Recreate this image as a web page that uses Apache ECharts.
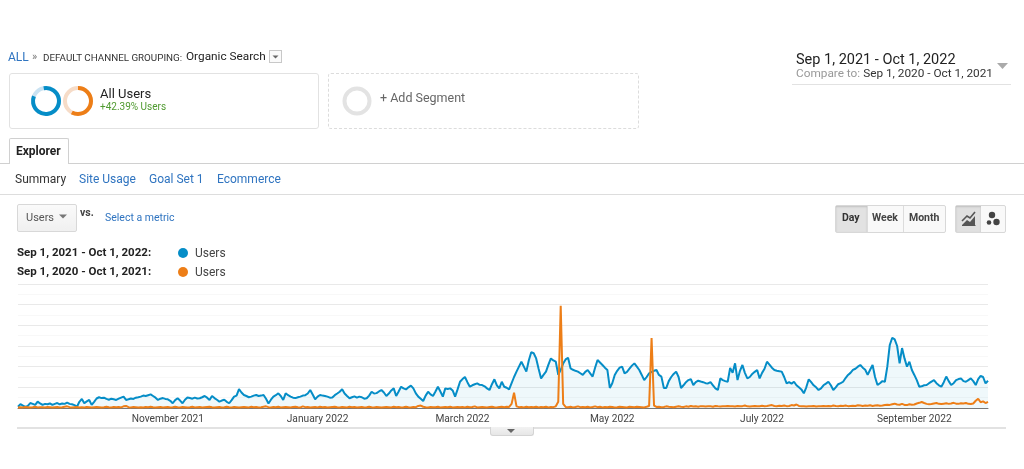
<!DOCTYPE html>
<html><head><meta charset="utf-8">
<script src="https://cdn.jsdelivr.net/npm/echarts@6/dist/echarts.min.js"></script>
<style>
html,body{margin:0;padding:0;width:1024px;height:469px;overflow:hidden;background:#fff;font-family:Roboto,Arial,sans-serif;}
#chart{position:absolute;left:0;top:0;width:1024px;height:469px;}
.a{position:absolute;white-space:nowrap;line-height:1;}
.box{position:absolute;box-sizing:border-box;}
.blue{color:#2f74c0;}
</style></head><body>
<div id="chart"></div>

<!-- breadcrumb -->
<div class="a blue" style="left:8px;top:51px;font-size:12px;">ALL</div>
<div class="a" style="left:32px;top:51px;font-size:11px;color:#777;">»</div>
<div class="a" style="left:43px;top:52.5px;font-size:9.8px;color:#333;">DEFAULT CHANNEL GROUPING:</div>
<div class="a" style="left:186px;top:50.5px;font-size:11.8px;color:#222;">Organic Search</div>
<div class="box" style="left:269px;top:50px;width:13px;height:13px;border:1px solid #c8c8c8;background:#fafafa;"></div>
<svg class="box" style="left:269px;top:50px" width="13" height="13"><path d="M3.5 5.5 L9.5 5.5 L6.5 8.5 Z" fill="#666"/></svg>

<!-- segment 1 -->
<div class="box" style="left:9px;top:73px;width:310px;height:56px;border:1px solid #e2e2e2;border-radius:3px;"></div>
<svg class="box" style="left:28px;top:83px" width="70" height="36">
  <circle cx="18" cy="18" r="13" fill="none" stroke="#c9e2f2" stroke-width="4"/>
  <circle cx="18" cy="18" r="13" fill="none" stroke="#058dc7" stroke-width="4" stroke-dasharray="68 82" transform="rotate(-100 18 18)"/>
  <circle cx="50" cy="18" r="13" fill="none" stroke="#f6dcc8" stroke-width="4"/>
  <circle cx="50" cy="18" r="13" fill="none" stroke="#ed7e17" stroke-width="4" stroke-dasharray="47 82" transform="rotate(-90 50 18)"/>
</svg>
<div class="a" style="left:100px;top:87px;font-size:13px;color:#222;">All Users</div>
<div class="a" style="left:100px;top:102px;font-size:10px;color:#4f9a2f;">+42.39% Users</div>

<!-- segment 2 -->
<div class="box" style="left:328px;top:73px;width:311px;height:56px;border:1px dashed #dcdcdc;border-radius:3px;"></div>
<svg class="box" style="left:342px;top:86px" width="30" height="30">
  <circle cx="15" cy="15" r="12.5" fill="none" stroke="#e3e3e3" stroke-width="4"/>
</svg>
<div class="a" style="left:380px;top:92px;font-size:12.5px;color:#666;">+ Add Segment</div>

<!-- date range -->
<div class="a" style="left:796px;top:53px;font-size:14.5px;color:#222;">Sep 1, 2021 - Oct 1, 2022</div>
<div class="a" style="left:796px;top:68px;font-size:11.8px;color:#999;">Compare to: <span style="color:#333">Sep 1, 2020 - Oct 1, 2021</span></div>
<svg class="box" style="left:997px;top:62px" width="12" height="8"><path d="M0 1 L11 1 L5.5 7 Z" fill="#aaa"/></svg>
<div class="box" style="left:792px;top:84px;width:219px;height:1px;background:#e2e2e2;"></div>

<!-- explorer tab -->
<div class="box" style="left:0;top:163px;width:1024px;height:1px;background:#d0d0d0;"></div>
<div class="box" style="left:9px;top:138px;width:60px;height:26px;border:1px solid #d0d0d0;border-bottom:none;background:#fff;border-radius:2px 2px 0 0;"></div>
<div class="a" style="left:16px;top:145px;font-size:12px;font-weight:bold;color:#222;">Explorer</div>

<!-- subtabs -->
<div class="a" style="left:15px;top:172.5px;font-size:12px;color:#333;">Summary</div>
<div class="a blue" style="left:79px;top:172.5px;font-size:12px;">Site Usage</div>
<div class="a blue" style="left:149px;top:172.5px;font-size:12px;">Goal Set 1</div>
<div class="a blue" style="left:217px;top:172.5px;font-size:12px;">Ecommerce</div>
<div class="box" style="left:0;top:194px;width:1024px;height:1px;background:#ddd;"></div>

<!-- metric selector -->
<div class="box" style="left:17px;top:204px;width:60px;height:28px;border:1px solid #d8d8d8;border-radius:2px;background:linear-gradient(#fafafa,#f0f0f0);"></div>
<div class="a" style="left:26px;top:212px;font-size:11px;color:#555;">Users</div>
<svg class="box" style="left:59px;top:214px" width="9" height="6"><path d="M0 0.5 L8 0.5 L4 4.5 Z" fill="#777"/></svg>
<div class="a" style="left:80px;top:208px;font-size:10.5px;font-weight:bold;color:#444;">vs.</div>
<div class="a blue" style="left:105px;top:213px;font-size:10.5px;">Select a metric</div>

<!-- day/week/month -->
<div class="box" style="left:835px;top:205px;width:111px;height:28px;border:1px solid #d8d8d8;border-radius:2px;background:#f9f9f9;"></div>
<div class="box" style="left:836px;top:206px;width:31px;height:26px;background:#e2e2e2;box-shadow:inset 0 1px 2px rgba(0,0,0,0.15);"></div>
<div class="box" style="left:867px;top:206px;width:1px;height:26px;background:#dcdcdc;"></div>
<div class="box" style="left:903px;top:206px;width:1px;height:26px;background:#dcdcdc;"></div>
<div class="a" style="left:842px;top:213px;font-size:10.5px;font-weight:bold;color:#333;">Day</div>
<div class="a" style="left:872px;top:213px;font-size:10.5px;font-weight:bold;color:#444;">Week</div>
<div class="a" style="left:909px;top:213px;font-size:10.5px;font-weight:bold;color:#444;">Month</div>
<div class="box" style="left:955px;top:205px;width:51px;height:28px;border:1px solid #d8d8d8;border-radius:2px;background:#f9f9f9;"></div>
<div class="box" style="left:956px;top:206px;width:25px;height:26px;background:#e0e0e0;box-shadow:inset 0 1px 2px rgba(0,0,0,0.15);"></div>
<svg class="box" style="left:956px;top:206px" width="50" height="26">
  <path d="M6 19 L11 14 L14 16 L19 10 L19 19 Z" fill="#555"/>
  <path d="M6 15 L11 10 L14 12 L19 6" fill="none" stroke="#555" stroke-width="1.6"/>
  <path d="M6 19.5 L19.5 19.5" stroke="#555" stroke-width="1"/>
  <circle cx="36" cy="9" r="3.2" fill="#444"/>
  <circle cx="33" cy="16.5" r="2.3" fill="#444"/>
  <circle cx="40.5" cy="16" r="3.2" fill="#444"/>
</svg>

<!-- legend -->
<div class="a" style="left:17px;top:247px;font-size:11.5px;font-weight:bold;color:#222;">Sep 1, 2021 - Oct 1, 2022:</div>
<div class="box" style="left:178px;top:248px;width:10px;height:10px;border-radius:5px;background:#058dc7;"></div>
<div class="a" style="left:195px;top:247px;font-size:12px;color:#444;">Users</div>
<div class="a" style="left:17px;top:266px;font-size:11.5px;font-weight:bold;color:#222;">Sep 1, 2020 - Oct 1, 2021:</div>
<div class="box" style="left:178px;top:267px;width:10px;height:10px;border-radius:5px;background:#ed7e17;"></div>
<div class="a" style="left:195px;top:266px;font-size:12px;color:#444;">Users</div>

<!-- bottom panel edge -->
<div class="box" style="left:17px;top:427px;width:989px;height:2px;background:#e2e2e2;"></div>
<div class="box" style="left:490px;top:427px;width:44px;height:9px;border:1px solid #d4d4d4;border-top:none;border-radius:0 0 3px 3px;background:linear-gradient(#f2f2f2,#e6e6e6);"></div>
<svg class="box" style="left:507px;top:429px" width="10" height="5"><path d="M0 0 L8 0 L4 4 Z" fill="#666"/></svg>

<script>
var startDate = [2021, 8, 1];
var blueUsers = [6,19,12,5,10,24,20,15,31,22,
15,20,18,22,15,20,24,18,22,20,
26,20,18,14,6,30,44,23,32,39,
15,30,46,52,48,50,44,40,45,42,
39,45,50,55,39,42,46,44,50,52,
55,60,58,62,66,58,50,39,45,48,
44,42,35,23,38,47,36,23,40,51,
48,45,50,46,47,52,58,50,39,58,
48,40,31,36,40,30,23,38,55,60,
91,75,63,58,52,55,60,63,58,60,
63,45,22,40,55,62,71,58,39,71,
62,55,50,48,52,55,60,62,70,87,
65,42,55,63,60,58,55,50,51,62,
70,79,91,70,58,47,52,56,50,55,
52,45,47,60,79,70,72,80,87,75,
58,70,85,95,58,80,103,95,90,100,
108,95,71,55,45,34,60,79,66,58,
80,103,80,55,95,92,95,85,55,90,
127,140,150,125,103,110,115,119,112,111,
105,95,87,115,139,110,95,127,103,98,
90,120,150,176,200,224,200,176,230,270,
265,240,190,143,160,176,210,240,230,224,
160,185,215,235,243,192,185,180,176,168,
160,175,184,168,152,195,232,220,208,195,
184,97,120,160,180,195,200,168,175,190,
205,216,200,184,160,135,150,168,175,180,
184,160,152,97,97,130,150,165,176,150,
97,110,125,135,140,111,125,132,128,125,
120,119,125,110,95,87,143,135,130,127,
194,170,216,135,180,208,170,143,150,165,
175,184,143,170,190,224,210,195,184,180,
178,176,150,119,125,118,127,110,100,90,
71,100,139,125,110,100,87,95,110,118,
127,110,87,100,115,120,127,145,160,170,
184,190,200,208,195,185,160,185,208,150,
111,120,130,127,200,305,340,332,300,216,
290,240,200,224,184,160,135,103,105,110,
111,120,128,135,120,110,103,125,152,130,
111,120,135,140,143,130,127,135,143,130,
111,140,155,150,119,132];
var orangeUsers = [3,4,3,5,4,3,4,6,3,4,
4,3,5,4,3,4,5,3,4,6,
8,4,3,4,5,3,4,3,5,4,
3,4,5,4,3,4,6,4,3,5,
4,5,3,8,10,4,3,5,4,3,
4,3,5,4,6,4,3,4,5,3,
4,5,3,4,6,4,3,5,4,3,
4,6,3,4,5,3,4,5,6,4,
3,4,5,3,4,6,4,3,5,4,
3,4,5,4,3,6,4,5,3,4,
6,8,4,3,5,4,6,3,4,5,
4,3,5,6,4,3,8,4,5,3,
4,5,3,6,4,5,3,4,5,6,
4,3,5,4,3,6,4,5,3,4,
5,3,4,6,4,3,5,4,3,4,
5,4,3,6,4,5,3,4,6,4,
3,5,4,10,12,6,4,3,5,4,
4,6,3,4,5,4,6,3,4,5,
4,5,3,6,4,5,8,3,4,5,
4,3,5,6,4,3,5,6,4,6,
5,20,74,8,4,5,3,6,4,5,
4,6,3,5,4,6,3,5,4,8,
30,495,20,5,4,6,3,5,8,4,
5,4,6,3,5,8,4,6,3,5,
4,6,5,3,4,6,5,4,3,6,
5,4,6,5,4,3,6,10,339,12,
5,6,4,5,8,6,5,4,6,8,
6,5,8,6,10,7,8,6,9,8,
7,9,8,6,10,8,7,9,8,10,
8,9,7,10,8,9,12,8,7,9,
10,8,9,11,9,10,12,14,10,9,
11,10,12,9,10,14,12,17,10,9,
8,7,9,8,10,7,9,8,10,9,
10,8,12,10,9,11,10,12,9,10,
11,10,13,12,10,12,11,13,10,12,
13,11,12,14,16,15,18,21,17,16,
20,15,14,18,16,17,22,25,29,24,
20,18,19,22,24,20,19,21,23,20,
22,25,21,20,23,22,24,20,19,22,
35,45,28,32,24,30];
var monthNames = ['January','February','March','April','May','June','July','August','September','October','November','December'];
var labelMonths = [10, 0, 2, 4, 6, 8];

var days = [];
var t0 = Date.UTC(startDate[0], startDate[1], startDate[2]);
for (var i = 0; i < blueUsers.length; i++) {
  var d = new Date(t0 + i * 86400000);
  days.push(d.getUTCFullYear() + '-' + (d.getUTCMonth() + 1) + '-' + d.getUTCDate());
}
function isLabel(idx) {
  if (idx === 0) return false;
  var p = days[idx].split('-');
  return +p[2] === 1 && labelMonths.indexOf(+p[1] - 1) >= 0;
}

var chart = echarts.init(document.getElementById('chart'), null, {renderer: 'canvas'});
chart.setOption({
  animation: false,
  grid: {left: 18, right: 36, top: 284, bottom: 61, containLabel: false},
  xAxis: {
    type: 'category', data: days, boundaryGap: false,
    axisLine: {show: true, lineStyle: {color: '#777', width: 1}},
    axisTick: {show: false},
    splitLine: {show: false},
    axisLabel: {
      interval: function (idx) { return isLabel(idx); },
      formatter: function (v) { var p = v.split('-'); return monthNames[+p[1] - 1] + ' ' + p[0]; },
      color: '#444', fontSize: 10.2, fontFamily: 'Roboto, Arial, sans-serif', margin: 6
    }
  },
  yAxis: {
    type: 'value', min: 0, max: 600, interval: 100,
    axisLabel: {show: false}, axisLine: {show: false}, axisTick: {show: false},
    splitLine: {show: true, lineStyle: {color: '#e9e9e9', width: 1}},
    minorTick: {show: false, splitNumber: 2},
    minorSplitLine: {show: true, lineStyle: {color: '#f8f8f8', width: 1}}
  },
  series: [
    {
      name: 'Users', type: 'line', data: blueUsers, showSymbol: false, symbol: 'none',
      lineStyle: {color: '#058dc7', width: 2}, itemStyle: {color: '#058dc7'},
      areaStyle: {color: 'rgba(5,141,199,0.09)'}, z: 2
    },
    {
      name: 'Users (prev)', type: 'line', data: orangeUsers, showSymbol: false, symbol: 'none',
      lineStyle: {color: '#ed7e17', width: 2}, itemStyle: {color: '#ed7e17'}, z: 3
    }
  ]
});
</script>
</body></html>
